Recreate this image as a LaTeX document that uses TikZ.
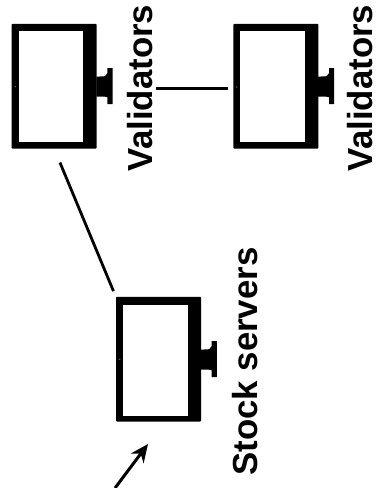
\documentclass[tikz,border=0pt]{standalone}
\usepackage{fontspec}
\setmainfont{Liberation Sans}
\usetikzlibrary{arrows.meta}
\tikzset{
  bezel/.style={fill=black,draw=none,inner sep=0pt,minimum width=85pt,minimum height=124.6pt,rounded corners=0.8pt},
  screen/.style={fill=white,draw=none,inner sep=0pt,minimum width=65pt,minimum height=111pt},
  stand/.style={fill=black,draw=none},
  lamp/.style={fill=gray,draw=none,circle,inner sep=0pt,minimum size=1.2pt},
  lab/.style={rotate=90,inner sep=0pt,font=\bfseries\fontsize{34.8}{36}\selectfont},
  lnk/.style={line width=2.8pt,draw=black}
}
\newcommand{\drawstand}[1]{%
  \begin{scope}[shift={(#1.east)}]
    \fill[stand] (-0.5,-9.5) -- (8,-10) -- (10.5,-13) -- (10.5,-18) -- (15.7,-18) -- (15.7,18) -- (10.5,18) -- (10.5,11) -- (8,10.5) -- (-0.5,10.5) -- cycle;
  \end{scope}}
\begin{document}
\begin{tikzpicture}[x=1pt,y=-1pt]
\useasboundingbox (0,0) rectangle (377,488);
% monitors
\node[bezel] (m1) at (54.2,86.2) {};
\node[screen,minimum width=63.4pt] (s1) at (51,86.2) {};
\node[bezel] (m2) at (275.8,86.2) {};
\node[screen] (s2) at (272.5,86.2) {};
\node[bezel] (m3) at (158.5,359.2) {};
\node[screen] (s3) at (155.8,360.2) {};
\node[lamp] (p1) at (15.2,86.7) {};
\node[lamp] (p2) at (236.7,87) {};
\node[lamp] (p3) at (119.7,359.5) {};
% stands
\drawstand{m1}
\drawstand{m2}
\drawstand{m3}
% labels
\node[lab] (l1) at (140.5,88) {Validators};
\node[lab] (l2) at (360.5,88) {Validators};
\node[lab] (l3) at (245,361.5) {Stock servers};
% connectors
\draw[lnk,shorten <=59.5pt,shorten >=5.3pt] ([yshift=-2.2pt]m1.east) -- ([yshift=-2.2pt]m2.west);
\draw[lnk,shorten <=15pt,shorten >=6pt] (m1.south) -- (m3.north west);
\coordinate (b1) at (115,488);
\coordinate (b2) at (148,444);
\draw[lnk,line width=3pt,-{Stealth[length=18pt,width=16pt]}] (b1) -- (b2);
\end{tikzpicture}
\end{document}
